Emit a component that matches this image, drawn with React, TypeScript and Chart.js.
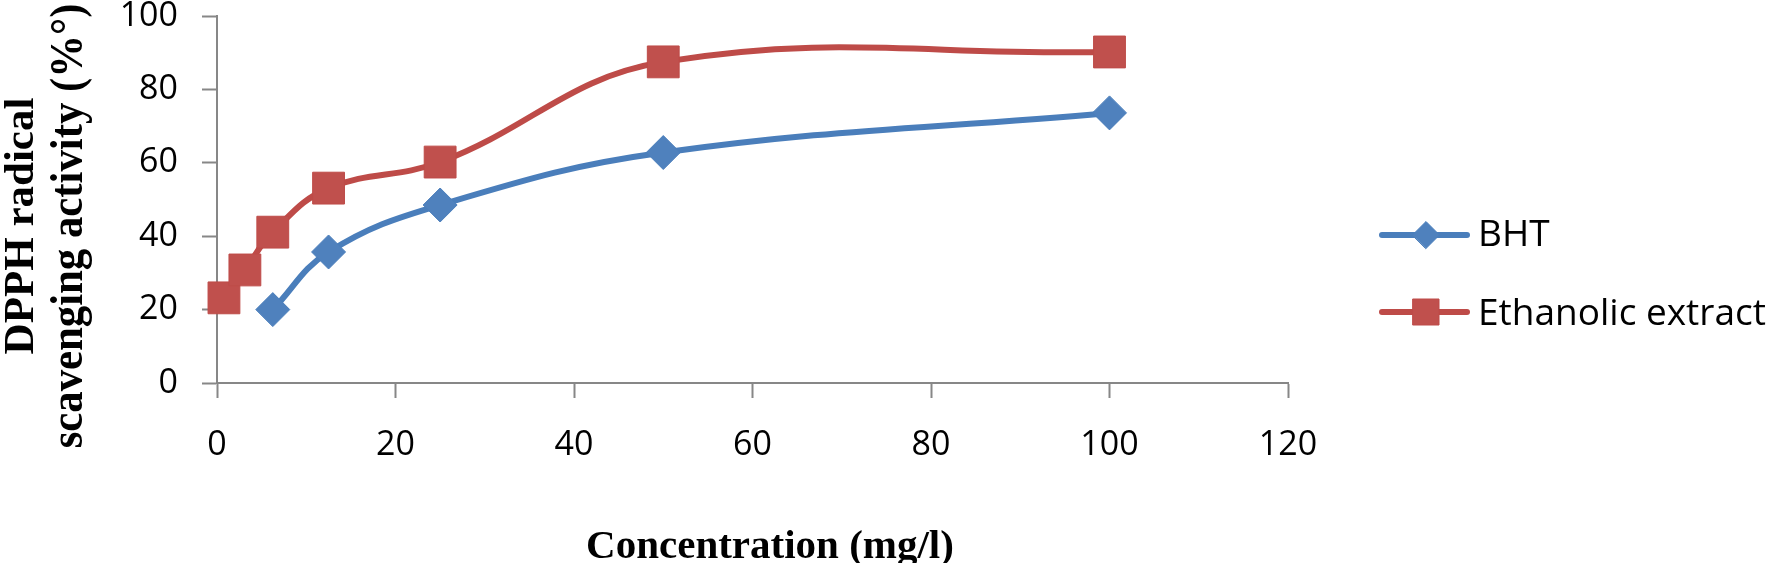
import React, { useEffect, useRef } from 'react';
import { Chart, registerables } from 'chart.js';

Chart.register(...registerables);

// ---- Data ----
const bhtConcentration = [6.25, 12.5, 25, 50, 100];
const bhtActivity = [20, 35.7, 48.5, 62.8, 73.6];
const ethanolicConcentration = [0.78, 3.125, 6.25, 12.5, 25, 50, 100];
const ethanolicActivity = [23.2, 30.8, 41.1, 53.1, 60.2, 87.5, 90.2];
const seriesLabels = ['BHT', 'Ethanolic extract'];
const xTickValues = [0, 20, 40, 60, 80, 100, 120];
const yTickValues = [0, 20, 40, 60, 80, 100];
const xAxisTitle = 'Concentration (mg/l)';
const yAxisTitleLines = ['DPPH radical', 'scavenging activity (%°)'];

const BLUE_LINE = '#4A7EBB';
const BLUE_FILL = '#4F81BD';
const RED_LINE = '#BE4B48';
const RED_FILL = '#C0504D';
const AXIS_GRAY = '#878787';
const X_TICK_FONT = { family: '"Open Sans", Lato, sans-serif', size: 34 };
const Y_TICK_FONT = { family: '"Open Sans", Lato, sans-serif', size: 34 };

const toPoints = (xs: number[], ys: number[]) => xs.map((x, i) => ({ x, y: ys[i] }));

const titlesAndLegend = {
  id: 'titlesAndLegend',
  afterDraw(chart: any) {
    const ctx = chart.ctx as CanvasRenderingContext2D;
    ctx.save();
    ctx.fillStyle = '#000';
    ctx.textAlign = 'center';
    ctx.textBaseline = 'alphabetic';
    // Y axis title (two rotated lines)
    const yTitleStyle = [
      { bx: 33, cy: 226, size: 43, squeeze: 1 },
      { bx: 82, cy: 226, size: 47, squeeze: 0.91 },
    ];
    yAxisTitleLines.forEach((line, i) => {
      const s = yTitleStyle[i];
      ctx.save();
      ctx.font = `bold ${s.size}px "Liberation Serif", "Times New Roman", serif`;
      ctx.translate(s.bx, s.cy);
      ctx.rotate(-Math.PI / 2);
      ctx.scale(s.squeeze, 1);
      ctx.fillText(line, 0, 0);
      ctx.restore();
    });
    // X axis title
    ctx.font = 'bold 41px "Liberation Serif", "Times New Roman", serif';
    ctx.fillText(xAxisTitle, 770, 558);

    // Legend
    const legendY = [235, 312];
    const textBase = [246, 325];
    chart.data.datasets.forEach((ds: any, i: number) => {
      const y = legendY[i];
      ctx.strokeStyle = ds.borderColor;
      ctx.lineWidth = 6;
      ctx.lineCap = 'round';
      ctx.beginPath();
      ctx.moveTo(1382, y);
      ctx.lineTo(1467, y);
      ctx.stroke();
      ctx.fillStyle = ds.pointBackgroundColor;
      ctx.strokeStyle = ds.pointBorderColor;
      ctx.lineWidth = 1;
      const cx = 1426;
      ctx.beginPath();
      if (ds.pointStyle === 'rectRot') {
        const r = 13.5;
        ctx.moveTo(cx - r, y);
        ctx.lineTo(cx, y - r);
        ctx.lineTo(cx + r, y);
        ctx.lineTo(cx, y + r);
        ctx.closePath();
      } else {
        const h = 13;
        ctx.rect(cx - h, y - h, 2 * h, 2 * h);
      }
      ctx.fill();
      ctx.stroke();
      ctx.fillStyle = '#000';
      ctx.font = '37px "Open Sans", Lato, sans-serif';
      ctx.textAlign = 'left';
      ctx.textBaseline = 'alphabetic';
      ctx.fillText(ds.label, 1478, textBase[i]);
    });
    ctx.restore();
  },
};

export default function App() {
  const canvasRef = useRef<HTMLCanvasElement | null>(null);

  useEffect(() => {
    document.body.style.margin = '0';
    const canvas = canvasRef.current;
    if (!canvas) return;
    const chart = new Chart(canvas, {
      type: 'line',
      data: {
        datasets: [
          {
            label: seriesLabels[0],
            data: toPoints(bhtConcentration, bhtActivity),
            borderColor: BLUE_LINE,
            borderWidth: 6,
            tension: 0.4,
            pointStyle: 'rectRot',
            pointRadius: 17,
            pointBackgroundColor: BLUE_FILL,
            pointBorderColor: BLUE_LINE,
            pointBorderWidth: 1,
            fill: false,
            clip: false,
          },
          {
            label: seriesLabels[1],
            data: toPoints(ethanolicConcentration, ethanolicActivity),
            borderColor: RED_LINE,
            borderWidth: 6,
            tension: 0.4,
            pointStyle: 'rect',
            pointRadius: 22.5,
            pointBackgroundColor: RED_FILL,
            pointBorderColor: RED_LINE,
            pointBorderWidth: 1,
            fill: false,
            clip: false,
          },
        ] as any,
      },
      options: {
        animation: false,
        responsive: false,
        maintainAspectRatio: false,
        layout: { autoPadding: false, padding: { top: 16, right: 484, left: 0, bottom: 0 } },
        plugins: {
          legend: { display: false },
          tooltip: { enabled: false },
          title: { display: false },
        },
        scales: {
          x: {
            type: 'linear',
            min: 0,
            max: 120,
            afterBuildTicks: (scale: any) => {
              scale.ticks = xTickValues.map((v) => ({ value: v }));
            },
            afterFit: (scale: any) => {
              scale.height = 180;
              scale.paddingLeft = 0;
              scale.paddingRight = 0;
            },
            ticks: { font: X_TICK_FONT, color: '#000', padding: 27, maxRotation: 0, autoSkip: false },
            grid: {
              display: true,
              drawOnChartArea: false,
              drawTicks: true,
              tickLength: 15,
              tickWidth: 2,
              tickColor: AXIS_GRAY,
              color: AXIS_GRAY,
            },
            border: { display: true, color: AXIS_GRAY, width: 2 },
          },
          y: {
            type: 'linear',
            min: 0,
            max: 100,
            afterBuildTicks: (scale: any) => {
              scale.ticks = yTickValues.map((v) => ({ value: v }));
            },
            afterFit: (scale: any) => {
              scale.width = 217;
              scale.paddingTop = 0;
              scale.paddingBottom = 0;
            },
            ticks: { font: Y_TICK_FONT, color: '#000', padding: 24, autoSkip: false },
            grid: {
              display: true,
              drawOnChartArea: false,
              drawTicks: true,
              tickLength: 15,
              tickWidth: 2,
              tickColor: AXIS_GRAY,
              color: AXIS_GRAY,
            },
            border: { display: true, color: AXIS_GRAY, width: 2 },
          },
        },
      },
      plugins: [titlesAndLegend],
    });
    return () => chart.destroy();
  }, []);

  return (
    <div style={{ position: 'absolute', left: 0, top: 0, width: 1772, height: 563, background: '#fff' }}>
      <canvas ref={canvasRef} width={1772} height={563} style={{ width: 1772, height: 563, display: 'block' }} />
    </div>
  );
}
